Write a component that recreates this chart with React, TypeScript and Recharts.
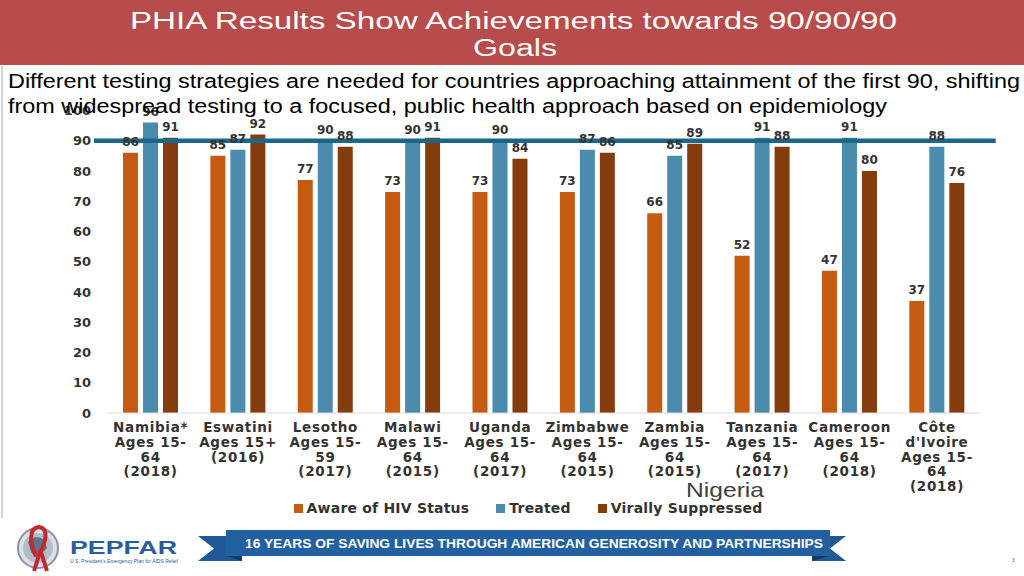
import { BarChart, Bar, XAxis, YAxis, ReferenceLine, LabelList, Legend } from 'recharts'

const countries = [
  'Namibia*\nAges 15-\n64\n(2018)',
  'Eswatini\nAges 15+\n(2016)',
  'Lesotho\nAges 15-\n59\n(2017)',
  'Malawi\nAges 15-\n64\n(2015)',
  'Uganda\nAges 15-\n64\n(2017)',
  'Zimbabwe\nAges 15-\n64\n(2015)',
  'Zambia\nAges 15-\n64\n(2015)',
  'Tanzania\nAges 15-\n64\n(2017)',
  'Cameroon\nAges 15-\n64\n(2018)',
  "Côte\nd'Ivoire\nAges 15-\n64\n(2018)",
]
const aware = [86, 85, 77, 73, 73, 73, 66, 52, 47, 37]
const treated = [96, 87, 90, 90, 90, 87, 85, 91, 91, 88]
const suppressed = [91, 92, 88, 91, 84, 86, 89, 88, 80, 76]
const yTicks = [0, 10, 20, 30, 40, 50, 60, 70, 80, 90, 100]
const target = 90

const series = [
  { key: 'aware', name: 'Aware of HIV Status', color: '#c55a11' },
  { key: 'treated', name: 'Treated', color: '#4a8bae' },
  { key: 'suppressed', name: 'Virally Suppressed', color: '#843c0c' },
]

const data = countries.map((country, i) => ({
  country,
  aware: aware[i],
  treated: treated[i],
  suppressed: suppressed[i],
}))

const boldFont = 'DejaVu Sans, Verdana, sans-serif'
const plainFont = 'Liberation Sans, Arial, sans-serif'

function CountryTick({ x, y, payload }: any) {
  const lines = String(payload.value).split('\n')
  return (
    <text x={x} y={y} textAnchor="middle" fill="#333" fontSize={13.5} fontWeight="bold" fontFamily={boldFont} letterSpacing={0.7}>
      {lines.map((line, i) => (
        <tspan key={i} x={x} dy={i === 0 ? 11 : 14.8}>
          {line}
        </tspan>
      ))}
    </text>
  )
}

function renderValueLabel(props: any) {
  const { x, y, width, value } = props
  return (
    <text x={x + width / 2} y={y - 7} textAnchor="middle" fill="#333" fontSize={12} fontWeight="bold" fontFamily={boldFont}>
      {value}
    </text>
  )
}

function renderLegend(props: any) {
  const items = props.payload || []
  return (
    <div style={{ display: 'flex', justifyContent: 'center', gap: 27, fontFamily: boldFont, fontWeight: 'bold', fontSize: 14, letterSpacing: 0.2, color: '#333' }}>
      {items.map((item: any) => (
        <span key={item.value} style={{ display: 'flex', alignItems: 'center' }}>
          <span style={{ width: 9, height: 9, background: item.color, marginRight: 4 }} />
          {item.value}
        </span>
      ))}
    </div>
  )
}

function Overlay() {
  return (
    <svg width={1024} height={576} style={{ position: 'absolute', left: 0, top: 0, pointerEvents: 'none' }}>
      {/* title banner */}
      <rect x={0} y={0} width={1024} height={65} fill="#b84c4c" />
      <text x={130} y={29} fontSize={23} fill="#fff" fontFamily={plainFont} textLength={767} lengthAdjust="spacingAndGlyphs">
        PHIA Results Show Achievements towards 90/90/90
      </text>
      <text x={473} y={56} fontSize={23} fill="#fff" fontFamily={plainFont} textLength={84} lengthAdjust="spacingAndGlyphs">
        Goals
      </text>
      <text x={8} y={88} fontSize={20} fill="#000" fontFamily={plainFont} textLength={1012} lengthAdjust="spacingAndGlyphs">
        Different testing strategies are needed for countries approaching attainment of the first 90, shifting
      </text>
      <text x={8} y={113} fontSize={20} fill="#000" fontFamily={plainFont} textLength={879} lengthAdjust="spacingAndGlyphs">
        from widespread testing to a focused, public health approach based on epidemiology
      </text>
      <line x1={2} y1={66} x2={2} y2={518} stroke="#d4d4d4" strokeWidth={2} />
      <text x={686} y={497} fontSize={21} fill="#404040" fontFamily={plainFont} textLength={78} lengthAdjust="spacingAndGlyphs">
        Nigeria
      </text>

      {/* footer logo */}
      <circle cx={38} cy={548} r={20} fill="#dde1e7" stroke="#8893a3" strokeWidth={2} />
      <circle cx={38} cy={548} r={15} fill="#b3bdca" />
      <path d="M28 542 C32 536 40 536 44 540 L47 548 C43 552 40 556 36 558 L31 552 Z" fill="#5d7391" />
      <path d="M36 556 C30 544 28 528 39 527 C49 528 46 542 40 552 L34 571" stroke="#c2282e" strokeWidth={4} fill="none" />
      <path d="M41 552 L47 571" stroke="#c2282e" strokeWidth={4} fill="none" />
      <text x={70} y={554} fontSize={18} fontWeight="bold" fill="#2b5c9c" fontFamily={plainFont} textLength={107} lengthAdjust="spacingAndGlyphs">
        PEPFAR
      </text>
      <text x={70} y={563} fontSize={4.5} fill="#2b5c9c" fontFamily={plainFont} textLength={108} lengthAdjust="spacingAndGlyphs">
        U.S. President's Emergency Plan for AIDS Relief
      </text>

      {/* ribbon banner */}
      <polygon points="198,536 242,536 242,561 198,561 214,548.5" fill="#1f5a96" />
      <polygon points="226,556 242,556 242,561" fill="#123a66" />
      <polygon points="812,536 846,536 830,548.5 846,561 812,561" fill="#1f5a96" />
      <polygon points="812,556 830,556 812,561" fill="#123a66" />
      <rect x={226} y={530} width={604} height={26} fill="#23609f" />
      <text x={245} y={547.5} fontSize={12} fontWeight="bold" fill="#fff" fontFamily={plainFont} textLength={578} lengthAdjust="spacingAndGlyphs">
        16 YEARS OF SAVING LIVES THROUGH AMERICAN GENEROSITY AND PARTNERSHIPS
      </text>
      <text x={1012} y={562} fontSize={5} fill="#666" fontFamily={plainFont}>
        3
      </text>
    </svg>
  )
}

export default function App() {
  return (
    <div style={{ position: 'fixed', left: 0, top: 0, width: 1024, height: 576, background: '#fff', overflow: 'hidden' }}>
      <BarChart
        width={1024}
        height={576}
        data={data}
        margin={{ top: 110.4, right: 43.3, bottom: 83, left: 0 }}
        barGap={5}
        style={{ position: 'absolute', left: 0, top: 0 }}
      >
        <XAxis
          dataKey="country"
          interval={0}
          tickLine={false}
          axisLine={{ stroke: '#d9d9d9' }}
          height={80}
          tick={<CountryTick />}
        />
        <YAxis
          domain={[0, 100]}
          ticks={yTicks}
          interval={0}
          axisLine={false}
          tickLine={false}
          tickMargin={10}
          width={107}
          tick={{ fill: '#333', fontSize: 13, fontWeight: 'bold', fontFamily: boldFont }}
        />
        {series.map((s) => (
          <Bar key={s.key} dataKey={s.key} name={s.name} fill={s.color} barSize={15} isAnimationActive={false}>
            <LabelList dataKey={s.key} content={renderValueLabel} />
          </Bar>
        ))}
        <ReferenceLine
          y={target}
          ifOverflow="visible"
          shape={(p: any) => <line x1={p.x1 - 13} y1={p.y1} x2={p.x2 + 15} y2={p.y2} stroke="#19678a" strokeWidth={4.5} />}
        />
        <Legend verticalAlign="middle" align="center" wrapperStyle={{ top: 500, left: 16, width: 1024 }} content={renderLegend} />
      </BarChart>
      <Overlay />
    </div>
  )
}
